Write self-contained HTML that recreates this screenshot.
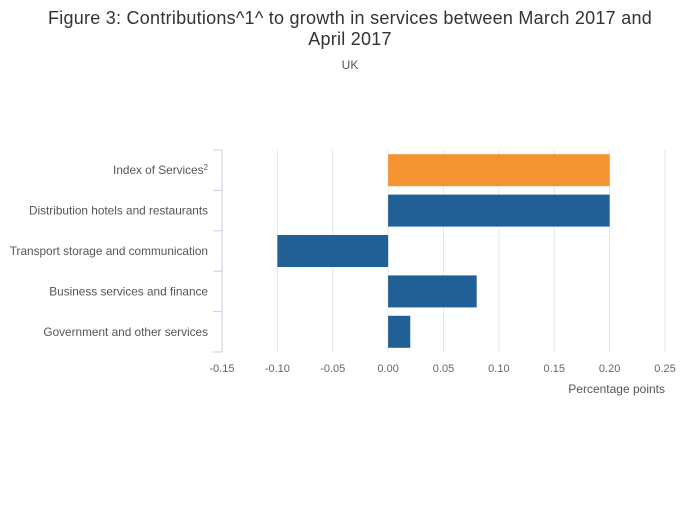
<!DOCTYPE html>
<html><head><meta charset="utf-8"><style>
body{margin:0;background:#fff;font-family:"Liberation Sans",sans-serif}
</style></head><body>
<svg id="c" width="700" height="502" xmlns="http://www.w3.org/2000/svg" style="font-family:'Liberation Sans',sans-serif">
<text x="350" y="24" text-anchor="middle" font-size="18" letter-spacing="0.25" fill="#333">Figure 3: Contributions^1^ to growth in services between March 2017 and</text>
<text x="350" y="45" text-anchor="middle" font-size="18" letter-spacing="0.25" fill="#333">April 2017</text>
<text x="350" y="69" text-anchor="middle" font-size="12" fill="#555">UK</text>
<g id="grid"></g><g id="bars"></g><g id="axes"></g>
<text x="665" y="393" text-anchor="end" font-size="12" fill="#555">Percentage points</text>
</svg>
<script>
const categories=["Index of Services","Distribution hotels and restaurants","Transport storage and communication","Business services and finance","Government and other services"];
const values=[0.2,0.2,-0.1,0.08,0.02];
const colors=["#f39431","#206095","#206095","#206095","#206095"];
const ticks=[-0.15,-0.10,-0.05,0.00,0.05,0.10,0.15,0.20,0.25];
const NS="http://www.w3.org/2000/svg";
const x0=-0.15,x1=0.25,px0=222,px1=665,yTop=150,yBot=352;
const X=v=>px0+(v-x0)/(x1-x0)*(px1-px0);
const band=(yBot-yTop)/categories.length;
function mk(t,a,p){const e=document.createElementNS(NS,t);for(const k in a)e.setAttribute(k,a[k]);p.appendChild(e);return e;}
const g=document.getElementById('grid'),b=document.getElementById('bars'),ax=document.getElementById('axes');
ticks.forEach(t=>{
 if(t>x0){const l=mk('line',{x1:X(t),x2:X(t),y1:yTop,y2:yBot,stroke:'#e6e6e6','stroke-width':1},g);
 
 }
 const tx=mk('text',{x:X(t),y:372,'text-anchor':'middle','font-size':11,fill:'#666'},ax);
 tx.textContent=t.toFixed(2);
 
 
});
const al=mk('line',{x1:px0,x2:px0,y1:yTop,y2:yBot,stroke:'#c4d1e6','stroke-width':1},ax);


for(let i=0;i<=categories.length;i++){const y=yTop+i*band;
 const tk=mk('line',{x1:px0-9,x2:px0,y1:y,y2:y,stroke:'#c4d1e6','stroke-width':1},ax);
 
 }
categories.forEach((c,i)=>{
 const yc=yTop+band*(i+0.5);
 const v=values[i];
 const r=mk('rect',{x:Math.min(X(0),X(v)),y:yc-16,width:Math.abs(X(v)-X(0)),height:32,fill:colors[i]},b);
 
 
 const t=mk('text',{x:208,y:yc+4,'text-anchor':'end','font-size':11.8,fill:'#555'},ax);
 t.textContent=c;
 if(i===0){const s=mk('tspan',{dy:-4,'font-size':8},t);s.textContent='2';}
 
 
});
</script>
</body></html>
